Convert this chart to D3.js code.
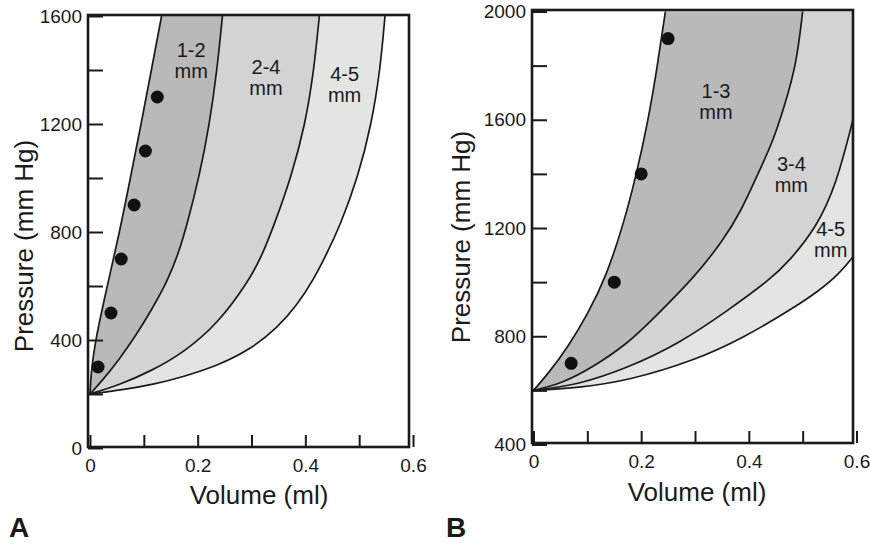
<!DOCTYPE html>
<html>
<head>
<meta charset="utf-8">
<script src="https://cdn.jsdelivr.net/npm/d3@7"></script>
<style>
  html, body { margin: 0; padding: 0; background: #ffffff; }
  text { font-family: "Liberation Sans", Arial, Helvetica, sans-serif; fill: #1a1a1a; }
</style>
</head>
<body>
<script>
// ---------------- DATA ----------------
// Panel A: boundary curves [volume (ml), pressure (mm Hg)]
const curveA1 = [[0,200],[0.002,280],[0.01,400],[0.032,600],[0.055,800],[0.075,1000],[0.095,1200],[0.114,1400],[0.133,1600]];
const curveA2 = [[0,200],[0.022,248],[0.052,322],[0.083,410],[0.114,510],[0.145,623],[0.165,725],[0.18,826],[0.203,1005],[0.222,1200],[0.236,1400],[0.246,1600]];
const curveA3 = [[0,200],[0.05,230],[0.114,285],[0.175,355],[0.237,460],[0.292,610],[0.318,705],[0.342,826],[0.374,1005],[0.4,1200],[0.416,1400],[0.426,1600]];
const curveA4 = [[0,200],[0.06,215],[0.12,236],[0.175,265],[0.237,305],[0.298,365],[0.348,445],[0.385,530],[0.415,623],[0.44,720],[0.465,826],[0.498,1005],[0.523,1200],[0.539,1400],[0.548,1600]];
const dotsAVol  = [0.015, 0.039, 0.058, 0.082, 0.103, 0.125];
const dotsAPres = [300, 500, 700, 900, 1100, 1300];
const bandLabelsA = [["1-2","mm",0.188,1450], ["2-4","mm",0.327,1385], ["4-5","mm",0.473,1360]];

// Panel B
const curveB1 = [[0,600],[0.027,661],[0.064,760],[0.101,883],[0.135,1020],[0.168,1220],[0.191,1397],[0.213,1597],[0.23,1797],[0.245,2000]];
const curveB2 = [[0,600],[0.052,625],[0.11,685],[0.176,775],[0.22,860],[0.3,1020],[0.352,1154],[0.385,1260],[0.414,1388],[0.445,1520],[0.466,1650],[0.488,1800],[0.5,2000]];
const curveB3 = [[0,600],[0.083,620],[0.176,684],[0.27,772],[0.361,895],[0.44,1010],[0.476,1080],[0.526,1203],[0.563,1363],[0.593,1597]];
const curveB4 = [[0,600],[0.083,609],[0.176,636],[0.299,710],[0.392,796],[0.485,907],[0.53,968],[0.565,1025],[0.593,1092]];
const dotsBVol  = [0.07, 0.15, 0.2, 0.25];
const dotsBPres = [700, 1000, 1400, 1900];
const bandLabelsB = [["1-3","mm",0.339,1680], ["3-4","mm",0.479,1410], ["4-5","mm",0.552,1170]];

// Axis ticks
const volTicks = [0, 0.1, 0.2, 0.3, 0.4, 0.5, 0.6];
const volLabels = [0, 0.2, 0.4, 0.6];
const presTicksA = [0, 200, 400, 600, 800, 1000, 1200, 1400, 1600];
const presLabelsA = [0, 400, 800, 1200, 1600];
const presTicksB = [400, 600, 800, 1000, 1200, 1400, 1600, 1800, 2000];
const presLabelsB = [400, 800, 1200, 1600, 2000];

const bandColors = ["#b9b9b9", "#d3d3d3", "#e3e5e3"];
const ink = "#1a1a1a";

// ---------------- DRAWING ----------------
const svg = d3.select("body").append("svg").attr("width", 870).attr("height", 546);

function panel(cfg) {
  const g = svg.append("g");
  const x = d3.scaleLinear().domain([0, 0.6]).range(cfg.xr);
  const y = d3.scaleLinear().domain(cfg.yd).range(cfg.yr);
  const f = cfg.frame; // [left, top, right, bottom]

  const clipId = "clip" + cfg.id;
  svg.append("clipPath").attr("id", clipId).append("rect")
    .attr("x", f[0]).attr("y", f[1]).attr("width", f[2] - f[0]).attr("height", f[3] - f[1]);

  const line = d3.line().x(d => x(d[0])).y(d => y(d[1])).curve(d3.curveBasis);
  const plot = g.append("g").attr("clip-path", `url(#${clipId})`);

  // bands
  cfg.bands.forEach((b, i) => {
    let p = line(b[0]);
    if (b[2]) p += "L" + x(b[2][0]) + "," + y(b[2][1]);
    p += line(b[1].slice().reverse()).replace(/^M/, "L") + "Z";
    plot.append("path").attr("d", p).attr("fill", bandColors[i]).attr("stroke", "none");
  });
  // curves
  cfg.curves.forEach(c => {
    plot.append("path").attr("d", line(c)).attr("fill", "none")
      .attr("stroke", ink).attr("stroke-width", 1.7);
  });
  // dots
  plot.selectAll("circle.dot").data(cfg.dotsVol.map((v, i) => [v, cfg.dotsPres[i]]))
    .enter().append("circle").attr("class", "dot")
    .attr("cx", d => x(d[0])).attr("cy", d => y(d[1])).attr("r", 6.5).attr("fill", "#111");
  // band labels
  cfg.labels.forEach(l => {
    const t = g.append("text").attr("text-anchor", "middle").attr("font-size", 20)
      .attr("x", x(l[2])).attr("y", y(l[3]));
    t.append("tspan").attr("x", x(l[2])).text(l[0]);
    t.append("tspan").attr("x", x(l[2])).attr("dy", 21).text(l[1]);
  });

  // axes (inward ticks)
  const ya = d3.axisLeft(y).tickValues(cfg.presTicks).tickSize(-15).tickPadding(6)
    .tickFormat(d => cfg.presLabels.includes(d) ? String(d) : "");
  const yg = g.append("g").attr("transform", `translate(${f[0]},0)`).call(ya);
  const xa = d3.axisBottom(x).tickValues(volTicks).tickSize(-12).tickPadding(12)
    .tickFormat(d => volLabels.some(v => Math.abs(v - d) < 1e-9) ? (d === 0 ? "0" : d3.format(".1f")(d)) : "");
  const xg = g.append("g").attr("transform", `translate(0,${f[3]})`).call(xa);
  [yg, xg].forEach(a => {
    a.select(".domain").remove();
    a.selectAll(".tick line").attr("stroke", ink).attr("stroke-width", 2);
    a.selectAll(".tick text").attr("font-size", 19).attr("fill", ink)
      .style("font-family", '"Liberation Sans", Arial, Helvetica, sans-serif');
  });

  // frame
  g.append("rect").attr("x", f[0]).attr("y", f[1]).attr("width", f[2] - f[0]).attr("height", f[3] - f[1])
    .attr("fill", "none").attr("stroke", ink).attr("stroke-width", 2.6);

  // titles
  g.append("text").attr("text-anchor", "middle").attr("font-size", 26)
    .attr("x", cfg.xTitle[0]).attr("y", cfg.xTitle[1]).text("Volume (ml)");
  g.append("text").attr("text-anchor", "middle").attr("font-size", 26)
    .attr("transform", `translate(${cfg.yTitle[0]},${cfg.yTitle[1]}) rotate(-90)`).text("Pressure (mm Hg)");
  g.append("text").attr("font-size", 28).attr("font-weight", "bold")
    .attr("x", cfg.letter[0]).attr("y", cfg.letter[1]).text(cfg.id);
}

panel({
  id: "A",
  xr: [90, 413], yd: [0, 1600], yr: [448, 16],
  frame: [88, 15, 409, 447],
  bands: [[curveA1, curveA2], [curveA2, curveA3], [curveA3, curveA4]],
  curves: [curveA1, curveA2, curveA3, curveA4],
  dotsVol: dotsAVol, dotsPres: dotsAPres,
  labels: bandLabelsA,
  presTicks: presTicksA, presLabels: presLabelsA,
  xTitle: [259, 504], yTitle: [33, 246], letter: [9, 537]
});

panel({
  id: "B",
  xr: [533.5, 856.5], yd: [400, 2000], yr: [444.5, 11.5],
  frame: [532, 10, 853, 443],
  bands: [[curveB1, curveB2], [curveB2, curveB3, [0.6, 2000]], [curveB3, curveB4]],
  curves: [curveB1, curveB2, curveB3, curveB4],
  dotsVol: dotsBVol, dotsPres: dotsBPres,
  labels: bandLabelsB,
  presTicks: presTicksB, presLabels: presLabelsB,
  xTitle: [697, 501], yTitle: [470, 237], letter: [446, 537]
});
</script>
</body>
</html>
